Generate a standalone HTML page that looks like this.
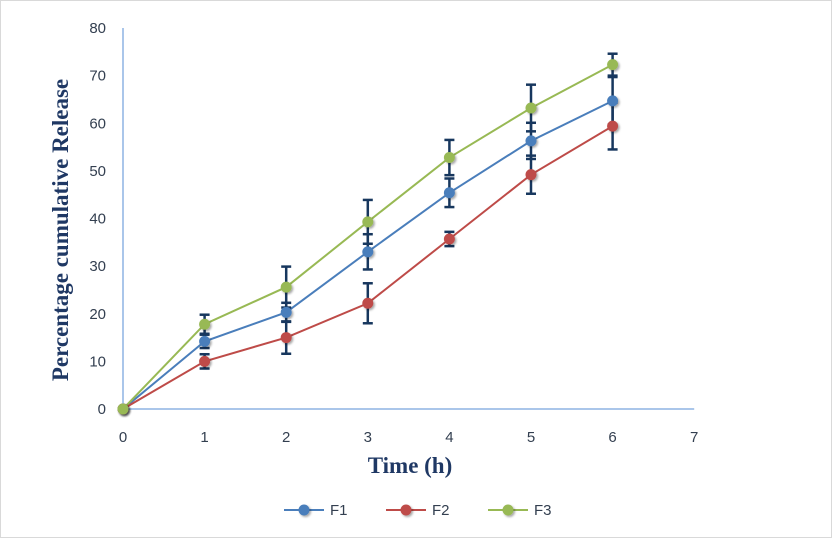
<!DOCTYPE html>
<html><head><meta charset="utf-8"><style>
body{margin:0;background:#fff}
svg{display:block;font-family:"Liberation Sans",sans-serif}
</style></head><body>
<svg id="chart" width="832" height="538" viewBox="0 0 832 538">
<defs><filter id="sh" x="-50%" y="-50%" width="200%" height="200%"><feDropShadow dx="1.5" dy="1.5" stdDeviation="1" flood-color="#000" flood-opacity="0.35"/></filter></defs>
<rect x="0.5" y="0.5" width="831" height="537" fill="#fff" stroke="#d9d9d9"/>
<g id="axes"></g><g id="series"></g>
<text x="60" y="230" transform="rotate(-90 60 230)" dy="8" font-family="'Liberation Serif',serif" font-weight="bold" font-size="23" fill="#1f3864" text-anchor="middle">Percentage cumulative Release</text>
<text x="410" y="473" font-family="'Liberation Serif',serif" font-weight="bold" font-size="23" fill="#1f3864" text-anchor="middle">Time (h)</text>
<g id="legend"></g>
</svg>
<script>
const times=[0,1,2,3,4,5,6];
const f1=[0,14.2,20.3,33,45.4,56.3,64.7];
const f2=[0,10,15,22.2,35.7,49.2,59.4];
const f3=[0,17.8,25.6,39.3,52.8,63.2,72.3];
const e1=[0,1.4,2,3.7,3,3.8,5];
const e2=[0,1.5,3.4,4.2,1.5,4,4.9];
const e3=[0,2,4.3,4.6,3.7,4.9,2.3];
const xTicks=[0,1,2,3,4,5,6,7];
const yTicks=[0,10,20,30,40,50,60,70,80];
const names=["F1","F2","F3"];
const colors=["#4a7ebb","#be4b48","#98b954"];
const X=v=>123+v*81.6, Y=v=>409-v*4.7625;
const NS="http://www.w3.org/2000/svg";
function mk(t,a,p){const e=document.createElementNS(NS,t);for(const k in a)e.setAttribute(k,a[k]);p.appendChild(e);return e;}
const ax=document.getElementById('axes'),sg=document.getElementById('series'),lg=document.getElementById('legend');
let l=mk('line',{x1:X(0),y1:Y(0),x2:X(7),y2:Y(0),stroke:'#8eb4e3','stroke-width':1.5},ax);


l=mk('line',{x1:X(0),y1:Y(0),x2:X(0),y2:Y(80),stroke:'#8eb4e3','stroke-width':1.5},ax);


xTicks.forEach(t=>{const e=mk('text',{x:X(t),y:442,'font-size':15,fill:'#333f50','text-anchor':'middle'},ax);e.textContent=t;

});
yTicks.forEach(t=>{const e=mk('text',{x:106,y:Y(t)+5,'font-size':15,fill:'#333f50','text-anchor':'end'},ax);e.textContent=t;

});
const data=[f1,f2,f3],errs=[e1,e2,e3];
data.forEach((d,i)=>{const p=mk('polyline',{points:times.map((t,j)=>X(t)+','+Y(d[j])).join(' '),fill:'none',stroke:colors[i],'stroke-width':2},sg);

});
data.forEach((d,i)=>{times.forEach((t,j)=>{if(!errs[i][j])return;const g=mk('g',{stroke:'#17375e','stroke-width':2.5},sg);


const x=X(t),a=Y(d[j]+errs[i][j]),b=Y(d[j]-errs[i][j]);
mk('line',{x1:x,y1:a,x2:x,y2:b},g);mk('line',{x1:x-5,y1:a,x2:x+5,y2:a},g);mk('line',{x1:x-5,y1:b,x2:x+5,y2:b},g);});});
data.forEach((d,i)=>{times.forEach((t,j)=>{const c=mk('circle',{cx:X(t),cy:Y(d[j]),r:5.5,fill:colors[i],filter:'url(#sh)'},sg);

});});
names.forEach((n,i)=>{const x0=284+i*102;const g=mk('g',{},lg);


mk('line',{x1:x0,y1:510,x2:x0+40,y2:510,stroke:colors[i],'stroke-width':2},g);
mk('circle',{cx:x0+20,cy:510,r:5.5,fill:colors[i],filter:'url(#sh)'},g);
const t=mk('text',{x:x0+46,y:515,'font-size':15,fill:'#333f50'},g);t.textContent=n;});
</script>
</body></html>
